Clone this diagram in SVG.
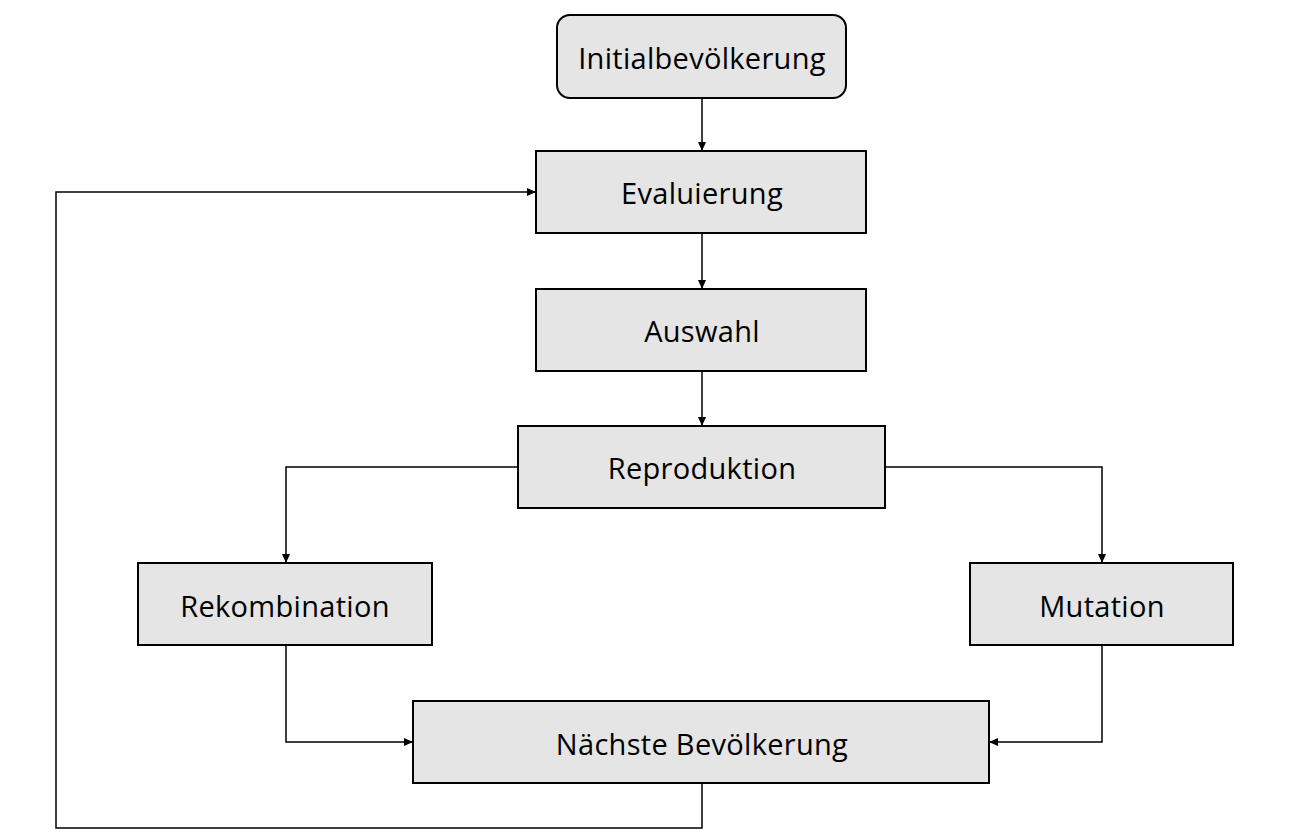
<svg xmlns="http://www.w3.org/2000/svg" width="1293" height="837" viewBox="0 0 1293 837">
<style>
.box{fill:#e5e5e5;stroke:#000;stroke-width:2}
.lbl{font-family:"Open Sans","Noto Sans",sans-serif;font-size:29px;letter-spacing:0.3px;fill:#000;text-anchor:middle;dominant-baseline:central}
.con{fill:none;stroke:#000;stroke-width:1.5}
</style>
<defs>
<marker id="arr" markerWidth="10" markerHeight="10" refX="9" refY="5" orient="auto" markerUnits="userSpaceOnUse">
<path d="M0,1 L9,5 L0,9 Z" fill="#000"/>
</marker>
</defs>
<rect width="1293" height="837" fill="#fff"/>
<g id="connectors">
<path class="con" d="M702,98 V151" marker-end="url(#arr)"/>
<path class="con" d="M702,233 V289" marker-end="url(#arr)"/>
<path class="con" d="M702,371 V426" marker-end="url(#arr)"/>
<path class="con" d="M518,467 H286 V563" marker-end="url(#arr)"/>
<path class="con" d="M885,467 H1102 V563" marker-end="url(#arr)"/>
<path class="con" d="M286,645 V742 H413" marker-end="url(#arr)"/>
<path class="con" d="M1102,645 V742 H989" marker-end="url(#arr)"/>
<path class="con" d="M702,783 V828 H56 V192 H536" marker-end="url(#arr)"/>
</g>
<g id="initial"><rect class="box" x="557" y="15" width="289" height="83" rx="13"/><text class="lbl" x="702" y="57">Initialbevölkerung</text></g>
<g id="evaluierung"><rect class="box" x="536" y="151" width="330" height="82"/><text class="lbl" x="702" y="192">Evaluierung</text></g>
<g id="auswahl"><rect class="box" x="536" y="289" width="330" height="82"/><text class="lbl" x="702" y="330">Auswahl</text></g>
<g id="reproduktion"><rect class="box" x="518" y="426" width="367" height="82"/><text class="lbl" x="702" y="467">Reproduktion</text></g>
<g id="rekombination"><rect class="box" x="138" y="563" width="294" height="82"/><text class="lbl" x="285" y="605">Rekombination</text></g>
<g id="mutation"><rect class="box" x="970" y="563" width="263" height="82"/><text class="lbl" x="1102" y="605">Mutation</text></g>
<g id="naechste"><rect class="box" x="413" y="701" width="576" height="82"/><text class="lbl" x="702" y="743">Nächste Bevölkerung</text></g>
</svg>
